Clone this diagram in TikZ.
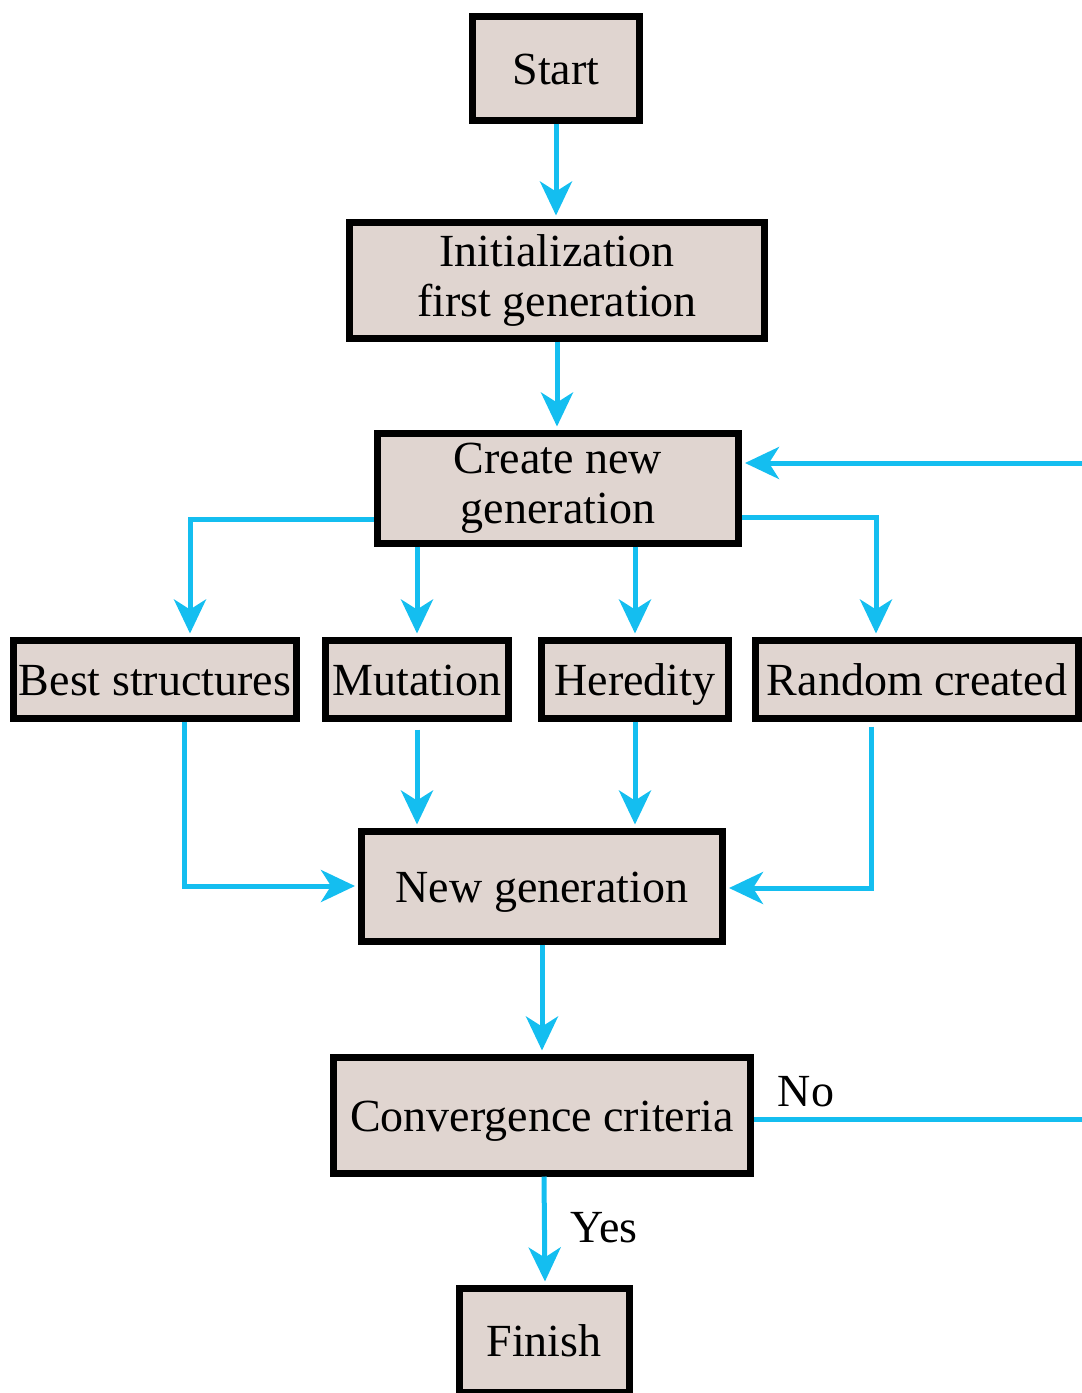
\documentclass[tikz,border=0pt]{standalone}
\usepackage{fontspec}
\setmainfont{Liberation Serif}
\usetikzlibrary{arrows.meta}
\definecolor{boxfill}{RGB}{224,213,208}
\definecolor{flow}{RGB}{20,190,240}
\begin{document}
\begin{tikzpicture}[x=1pt,y=-1pt,
  fbox/.style={draw=black,line width=7pt,fill=boxfill,inner sep=0pt,align=center,
    font=\fontsize{46}{50}\selectfont},
  oneline/.style={fbox,text height=35pt,text depth=2pt},
  conn/.style={draw=flow,line width=5pt},
  arr/.style={conn,-{Stealth[length=34pt,width=32pt,inset=10pt]},shorten >=3pt},
  lbl/.style={font=\fontsize{46}{50}\selectfont,inner sep=0pt}]
\useasboundingbox (0,0) rectangle (1082,1393);
\node[oneline,minimum width=167pt,minimum height=104pt] (start) at (556,68) {Start};
\node[fbox,minimum width=415pt,minimum height=116pt] (init) at (557,280) {Initialization\\first generation};
\node[fbox,minimum width=361pt,minimum height=110pt] (create) at (558,488) {Create new\\generation};
\node[oneline,minimum width=283pt,minimum height=78pt] (best) at (155,679) {Best structures};
\node[oneline,minimum width=183pt,minimum height=78pt] (mutation) at (417,679) {Mutation};
\node[oneline,minimum width=187pt,minimum height=78pt] (heredity) at (635,679) {Heredity};
\node[oneline,minimum width=323pt,minimum height=78pt] (random) at (917,679) {Random created};
\node[oneline,minimum width=361pt,minimum height=110pt] (newgen) at (542,886) {New generation};
\node[oneline,minimum width=417pt,minimum height=116pt] (conv) at (542,1115) {Convergence criteria};
\node[oneline,minimum width=170pt,minimum height=104pt] (finish) at (544,1340) {Finish};
\node[lbl] (no) at (806,1092) {No};
\node[lbl] (yes) at (604,1228) {Yes};
\draw[arr] (start.south) -- (start.south |- init.north);
\draw[arr] (init.south) -- (init.south |- create.north);
\draw[arr] ([yshift=-31pt]create.west) -| ([xshift=35pt]best.north);
\draw[arr] (mutation.north |- create.south) -- (mutation.north);
\draw[arr] (heredity.north |- create.south) -- (heredity.north);
\draw[arr] ([yshift=-29pt]create.east) -| ([xshift=-41pt]random.north);
\draw[arr] ([xshift=29pt]best.south) |- (newgen.west);
\draw[arr] ([yshift=-8pt]mutation.south) -- (mutation.south |- newgen.north);
\draw[arr] (heredity.south) -- (heredity.south |- newgen.north);
\draw[arr] ([xshift=-46pt,yshift=-5pt]random.south) |- ([yshift=-2pt]newgen.east);
\draw[arr] (newgen.south) -- (newgen.south |- conv.north);
\draw[arr] ([xshift=2pt]conv.south) -- ([xshift=1pt]finish.north);
\draw[arr] ([yshift=-4pt]conv.east) -- ++(345,0) |- ([yshift=25pt]create.east);
\end{tikzpicture}
\end{document}
